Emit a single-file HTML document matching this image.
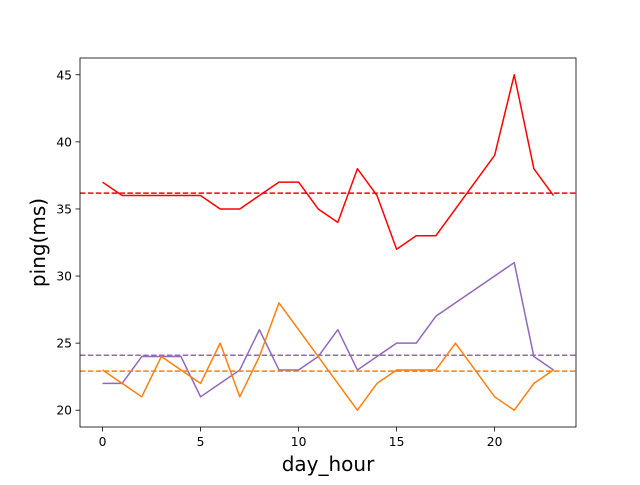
<!DOCTYPE html>
<html><head><meta charset="utf-8"><style>
body{margin:0;background:#fff}
svg text{font-family:"DejaVu Sans","Liberation Sans",sans-serif}
</style></head><body>
<svg id="chart" width="640" height="480" xmlns="http://www.w3.org/2000/svg"></svg>
<script>
const redHours=[0,1,2,3,4,5,6,7,8,9,10,11,12,13,14,15,16,17,20,21,22,23];
const redSeries=[37,36,36,36,36,36,35,35,36,37,37,35,34,38,36,32,33,33,39,45,38,36];
const purpleHours=[0,1,2,3,4,5,6,7,8,9,10,11,12,13,14,15,16,17,21,22,23];
const purpleSeries=[22,22,24,24,24,21,22,23,26,23,23,24,26,23,24,25,25,27,31,24,23];
const orangeHours=[0,1,2,3,4,5,6,7,8,9,10,11,12,13,14,15,16,17,18,19,20,21,22,23];
const orangeSeries=[23,22,21,24,23,22,25,21,24,28,26,24,22,20,22,23,23,23,25,23,21,20,22,23];
const xTicks=[0,5,10,15,20];
const yTicks=[20,25,30,35,40,45];
const svg=document.getElementById('chart');
const NS='http://www.w3.org/2000/svg';
const L=80,R=576,T=58,B=427;
const xmin=-1.15,xmax=24.15,ymin=18.75,ymax=46.25;
const X=v=>L+(v-xmin)/(xmax-xmin)*(R-L);
const Y=v=>B-(v-ymin)/(ymax-ymin)*(B-T);
function mk(tag,attrs,parent){const e=document.createElementNS(NS,tag);for(const k in attrs)e.setAttribute(k,attrs[k]);(parent||svg).appendChild(e);return e;}
const mean=a=>a.reduce((s,v)=>s+v,0)/a.length;
const series=[[redHours,redSeries,'#ff0000','red'],[purpleHours,purpleSeries,'#9467bd','purple'],[orangeHours,orangeSeries,'#ff7f0e','orange']];
series.forEach(([h,d,c,n])=>{
  const m=mean(d);
  const dl=mk('line',{x1:L,x2:R,y1:Y(m),y2:Y(m),stroke:c,'stroke-width':1.5,'stroke-dasharray':'5.5,2.4'});
  
  
  const p=mk('polyline',{points:d.map((v,i)=>X(h[i])+','+Y(v)).join(' '),fill:'none',stroke:c,'stroke-width':1.5,'stroke-linejoin':'round'});
  
  
});
const frame=mk('rect',{x:L,y:T,width:R-L,height:B-T,fill:'none',stroke:'#000','stroke-width':0.8});


xTicks.forEach(t=>{
  mk('line',{x1:X(t),x2:X(t),y1:B,y2:B+4.5,stroke:'#000','stroke-width':0.8});
  const tx=mk('text',{x:X(t),y:B+19,'font-size':12.3,'text-anchor':'middle'});tx.textContent=t;
  
  
});
yTicks.forEach(t=>{
  mk('line',{x1:L-4.5,x2:L,y1:Y(t),y2:Y(t),stroke:'#000','stroke-width':0.8});
  const tx=mk('text',{x:L-8,y:Y(t)+4.5,'font-size':12.3,'text-anchor':'end'});tx.textContent=t;
  
  
});
const xl=mk('text',{x:(L+R)/2,y:471,'font-size':20,'text-anchor':'middle'});xl.textContent='day_hour';


const yl=mk('text',{x:0,y:0,'font-size':20,'text-anchor':'middle',transform:'translate(45,'+((T+B)/2)+') rotate(-90)'});yl.textContent='ping(ms)';


</script>
</body></html>
